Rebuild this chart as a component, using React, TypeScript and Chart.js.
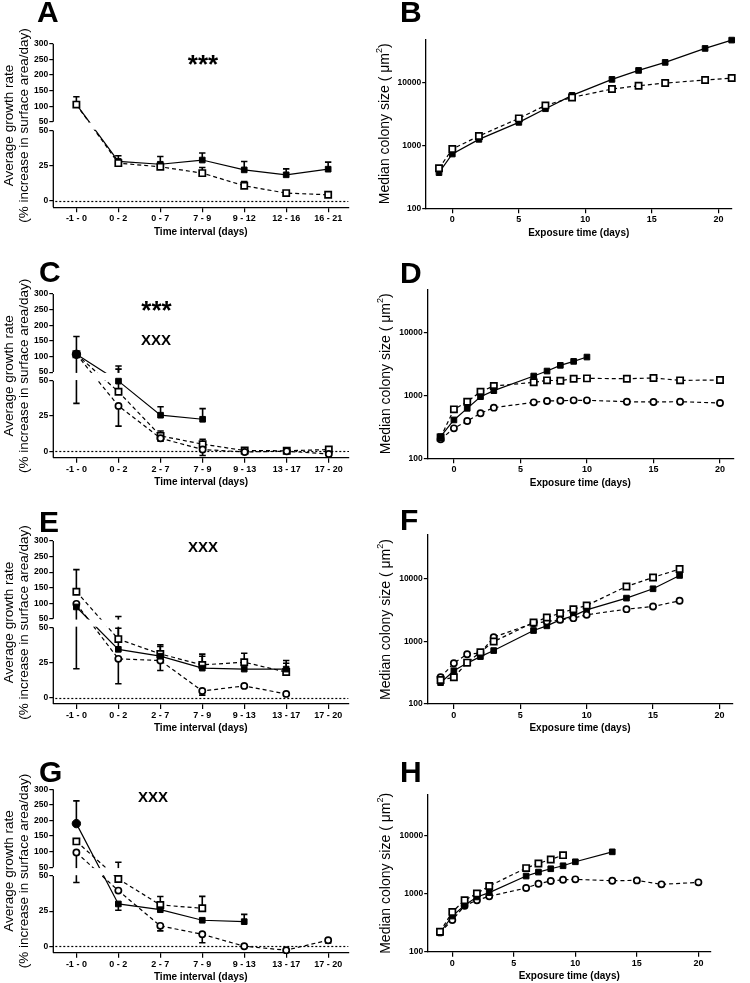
import React, { useEffect, useRef } from 'react';
import { Chart, registerables } from 'chart.js';

Chart.register(...registerables);

const FONT = '"Liberation Sans", Arial, Helvetica, sans-serif';

// ---------- broken y axis for growth-rate panels ----------
const GAP = 6.2;
const K = 0.222;
const Y_MIN = -4.6;
const UPPER_START = 50 + GAP;
const upperPos = (v: number) => UPPER_START + (v - 50) * K;
const brk = (v: number) => (v <= 50 ? v : upperPos(v));
const unbrk = (t: number) => (t <= 50.001 ? t : 50 + (t - UPPER_START) / K);
const LOWER_TICKS = [0, 25, 50];
const UPPER_TICKS = [50, 100, 150, 200, 250, 300];
const LOG_TICKS = [100, 1000, 10000];
const DAY_TICKS = [0, 5, 10, 15, 20];

const CATS_A = ['-1 - 0', '0 - 2', '0 - 7', '7 - 9', '9 - 12', '12 - 16', '16 - 21'];
const CATS_CEG = ['-1 - 0', '0 - 2', '2 - 7', '7 - 9', '9 - 13', '13 - 17', '17 - 20'];

// ---------- Panel A ----------
const A_filled = [106, 28, 26, 29, 22, 18.5, 22.5];
const A_filledUp = [24, 4, 5.5, 5, 6, 4.2, 5];
const A_open = [105, 26.8, 24.2, 19.7, 10.7, 5.5, 4.3];
const A_openUp = [0, 1, 1, 4, 3, 0.8, 0.8];

// ---------- Panel C ----------
const C_filled = [107, 49.8, 25.6, 22.7, null, null, null];
const C_filledUp = [57, 20, 6, 7.6, 0, 0, 0];
const C_filledDown = [73, 0, 0, 0, 0, 0, 0];
const C_square = [107, 42.2, 10.9, 5, 0.5, 0.3, 1.2];
const C_squareUp = [0, 17.5, 3.5, 3.5, 0.5, 0.5, 0.8];
const C_squareDown = [0, 0, 3, 0, 0, 0, 0];
const C_circle = [107, 32.2, 9.2, 1.2, -0.5, 0, -2];
const C_circleUp = [0, 0, 2, 2, 0, 0, 0];
const C_circleDown = [0, 14.4, 2, 4.2, 0, 0, 0.5];

// ---------- Panel E ----------
const E_filled = [88, 34.4, 29.5, 21, 20.3, 20.3, null];
const E_filledUp = [0, 15.1, 7, 8.5, 0, 4.2, 0];
const E_filledDown = [67.5, 0, 0, 0, 0, 0, 0];
const E_square = [137, 41.7, 31.1, 23.3, 25.2, 18.2, null];
const E_squareUp = [71, 15.8, 6.6, 7.7, 6.4, 8.2, 0];
const E_circle = [98, 27.6, 26.4, 4.7, 8.3, 2.6, null];
const E_circleUp = [0, 0, 0, 0, 0.8, 0.8, 0];
const E_circleDown = [0, 17.7, 7.1, 3, 1, 1, 0];

// ---------- Panel G ----------
const G_filled = [190, 30.1, 26, 18.5, 17.5, null, null];
const G_filledUp = [73, 0, 0, 0, 5.2, 0, 0];
const G_filledDown = [0, 4.5, 0, 0, 0, 0, 0];
const G_square = [133, 47.9, 29.4, 27, null, null, null];
const G_squareUp = [0, 18, 6, 8.5, 0, 0, 0];
const G_circle = [97.4, 39.6, 14.5, 8.5, 0, -2.8, 4.3];
const G_circleUp = [0, 0, 0, 0, 0, 0, 0.5];
const G_circleDown = [52, 0, 3.6, 6, 0.5, 0.5, 2];

// ---------- Panel B ----------
const B_days = [-1, 0, 2, 5, 7, 9, 12, 14, 16, 19, 21];
const B_filled = [371, 736, 1262, 2356, 3890, 6360, 11450, 15920, 21380, 35740, 48560];
const B_open = [435, 885, 1427, 2730, 4400, 5900, 8020, 9060, 10000, 11160, 12020];

// ---------- Panel D ----------
const D_filledDays = [-1, 0, 1, 2, 3, 6, 7, 8, 9, 10];
const D_filled = [222, 410, 628, 964, 1202, 2060, 2475, 3050, 3530, 4140];
const D_openDays = [-1, 0, 1, 2, 3, 6, 7, 8, 9, 10, 13, 15, 17, 20];
const D_square = [215, 605, 802, 1158, 1427, 1633, 1757, 1735, 1868, 1890, 1868, 1914, 1757, 1778];
const D_circle = [201, 301, 394, 523, 644, 783, 822, 832, 843, 843, 802, 792, 802, 764];

// ---------- Panel F ----------
const F_days = [-1, 0, 1, 2, 3, 6, 7, 8, 9, 10, 13, 15, 17];
const F_filled = [219, 340, 450, 571, 713, 1490, 1770, 2208, 2560, 3190, 4910, 6920, 11300];
const F_square = [242, 267, 458, 671, 993, 2000, 2404, 2824, 3270, 3745, 7540, 10500, 14280];
const F_circle = [267, 448, 624, 650, 1167, 1950, 2076, 2208, 2349, 2653, 3270, 3610, 4446];

// ---------- Panel H ----------
const H_filledDays = [-1, 0, 1, 2, 3, 6, 7, 8, 9, 10, 13];
const H_filled = [212, 411, 632, 877, 1043, 2009, 2350, 2683, 3020, 3536, 5250];
const H_squareDays = [-1, 0, 1, 2, 3, 6, 7, 8, 9];
const H_square = [220, 485, 771, 1004, 1355, 2754, 3311, 3878, 4600];
const H_circleDays = [-1, 0, 1, 2, 3, 6, 7, 8, 9, 10, 13, 15, 17, 20];
const H_circle = [215, 350, 620, 771, 900, 1251, 1484, 1650, 1738, 1761, 1670, 1692, 1445, 1564];

type Kind = 'filled' | 'square' | 'circle';
interface Series {
  kind: Kind;
  y: (number | null)[];
  x?: number[];
  up?: number[];
  down?: number[];
  firstCircle?: boolean;
}
interface PanelDef {
  id: string;
  side: 'left' | 'right';
  box: { left: number; top: number; width: number; height: number };
  area: { l: number; r: number; t: number; b: number };
  letter: { x: number; y: number };
  cats?: string[];
  series: Series[];
  notes: { text: string; cx: number; cy: number; size: number }[];
  yTitleX: number;
}

const LEFT_W = 375;
const PANELS: PanelDef[] = [
  {
    id: 'A', side: 'left', box: { left: 0, top: 0, width: LEFT_W, height: 240 },
    area: { l: 53.3, r: 348.3, t: 43.7, b: 207.3 }, letter: { x: 37, y: 22 }, cats: CATS_A,
    series: [
      { kind: 'filled', y: A_filled, up: A_filledUp },
      { kind: 'square', y: A_open, up: A_openUp },
    ],
    notes: [{ text: '***', cx: 203, cy: 60, size: 26 }], yTitleX: 9,
  },
  {
    id: 'B', side: 'right', box: { left: 375, top: 0, width: 375, height: 240 },
    area: { l: 425.7, r: 731.7, t: 39.3, b: 208.3 }, letter: { x: 400, y: 22 },
    series: [
      { kind: 'filled', x: B_days, y: B_filled },
      { kind: 'square', x: B_days, y: B_open },
    ],
    notes: [], yTitleX: 385,
  },
  {
    id: 'C', side: 'left', box: { left: 0, top: 240, width: LEFT_W, height: 250 },
    area: { l: 53.3, r: 349, t: 294, b: 457.7 }, letter: { x: 39, y: 282 }, cats: CATS_CEG,
    series: [
      { kind: 'square', y: C_square, up: C_squareUp, down: C_squareDown },
      { kind: 'circle', y: C_circle, up: C_circleUp, down: C_circleDown },
      { kind: 'filled', y: C_filled, up: C_filledUp, down: C_filledDown, firstCircle: true },
    ],
    notes: [
      { text: '***', cx: 156.5, cy: 306, size: 26 },
      { text: 'XXX', cx: 156, cy: 340, size: 15 },
    ], yTitleX: 9,
  },
  {
    id: 'D', side: 'right', box: { left: 375, top: 240, width: 375, height: 250 },
    area: { l: 427.3, r: 733.3, t: 289.3, b: 458.3 }, letter: { x: 400, y: 283 },
    series: [
      { kind: 'circle', x: D_openDays, y: D_circle },
      { kind: 'square', x: D_openDays, y: D_square },
      { kind: 'filled', x: D_filledDays, y: D_filled },
    ],
    notes: [], yTitleX: 386,
  },
  {
    id: 'E', side: 'left', box: { left: 0, top: 480, width: LEFT_W, height: 255 },
    area: { l: 53.3, r: 348.3, t: 541, b: 704 }, letter: { x: 39, y: 532 }, cats: CATS_CEG,
    series: [
      { kind: 'square', y: E_square, up: E_squareUp },
      { kind: 'circle', y: E_circle, up: E_circleUp, down: E_circleDown },
      { kind: 'filled', y: E_filled, up: E_filledUp, down: E_filledDown },
    ],
    notes: [{ text: 'XXX', cx: 203, cy: 546.7, size: 15 }], yTitleX: 9,
  },
  {
    id: 'F', side: 'right', box: { left: 375, top: 480, width: 375, height: 255 },
    area: { l: 427.3, r: 732.7, t: 535, b: 704 }, letter: { x: 400, y: 530 },
    series: [
      { kind: 'filled', x: F_days, y: F_filled },
      { kind: 'circle', x: F_days, y: F_circle },
      { kind: 'square', x: F_days, y: F_square },
    ],
    notes: [], yTitleX: 386,
  },
  {
    id: 'G', side: 'left', box: { left: 0, top: 730, width: LEFT_W, height: 253 },
    area: { l: 53.3, r: 348.3, t: 789.3, b: 952.7 }, letter: { x: 39, y: 782 }, cats: CATS_CEG,
    series: [
      { kind: 'square', y: G_square, up: G_squareUp },
      { kind: 'circle', y: G_circle, up: G_circleUp, down: G_circleDown },
      { kind: 'filled', y: G_filled, up: G_filledUp, down: G_filledDown, firstCircle: true },
    ],
    notes: [{ text: 'XXX', cx: 153, cy: 796.7, size: 15 }], yTitleX: 9,
  },
  {
    id: 'H', side: 'right', box: { left: 375, top: 730, width: 375, height: 253 },
    area: { l: 427.7, r: 710.7, t: 795, b: 951.7 }, letter: { x: 400, y: 782 },
    series: [
      { kind: 'circle', x: H_circleDays, y: H_circle },
      { kind: 'filled', x: H_filledDays, y: H_filled },
      { kind: 'square', x: H_squareDays, y: H_square },
    ],
    notes: [], yTitleX: 386,
  },
];

function marker(kind: Kind) {
  if (kind === 'filled') {
    return { pointStyle: 'rect', pointRadius: 4, pointBackgroundColor: '#000', pointBorderColor: '#000', pointBorderWidth: 1 };
  }
  if (kind === 'square') {
    return { pointStyle: 'rect', pointRadius: 4.4, pointBackgroundColor: '#fff', pointBorderColor: '#000', pointBorderWidth: 1.7 };
  }
  return { pointStyle: 'circle', pointRadius: 3.1, pointBackgroundColor: '#fff', pointBorderColor: '#000', pointBorderWidth: 1.7 };
}

function buildDatasets(p: PanelDef) {
  const lines: any[] = [];
  const points: any[] = [];
  const n = p.series.length;
  p.series.forEach((s, i) => {
    const pts: { x: number; y: number }[] = [];
    s.y.forEach((v, j) => {
      if (v == null) return;
      if (p.side === 'left') pts.push({ x: j, y: brk(v) });
      else pts.push({ x: (s.x as number[])[j], y: v });
    });
    lines.push({
      data: pts, borderColor: '#000', borderWidth: 1.2,
      borderDash: s.kind === 'filled' ? [] : [4, 3],
      pointRadius: 0, fill: false, tension: 0, order: 100 + i, clip: false,
    });
    const m: any = marker(s.kind);
    if (s.firstCircle) {
      m.pointStyle = pts.map((_, k) => (k === 0 ? 'circle' : 'rect'));
      m.pointRadius = pts.map((_, k) => (k === 0 ? 4.2 : 4));
    }
    points.push({
      data: pts, showLine: false, ...m, order: n - i, clip: false, isPoints: true,
    });
  });
  return [...lines, ...points];
}

function centeredText(ctx: CanvasRenderingContext2D, s: string, cx: number, cy: number) {
  const m = ctx.measureText(s);
  const asc = m.actualBoundingBoxAscent;
  const desc = m.actualBoundingBoxDescent;
  ctx.textAlign = 'center';
  ctx.textBaseline = 'alphabetic';
  ctx.fillText(s, cx, cy + (asc - desc) / 2);
}

function makePlugin(p: PanelDef) {
  const ox = p.box.left;
  const oy = p.box.top;
  return {
    id: 'panelDeco' + p.id,
    beforeDatasetsDraw(chart: any) {
      chart.$ptsDone = false;
      if (p.side !== 'left') return;
      const ctx = chart.ctx;
      const ys = chart.scales.y;
      const a = chart.chartArea;
      const y0 = Math.round(ys.getPixelForValue(0)) + 0.5;
      ctx.save();
      ctx.strokeStyle = '#000';
      ctx.lineWidth = 1.2;
      ctx.setLineDash([2, 2]);
      ctx.beginPath();
      ctx.moveTo(a.left + 2, y0);
      ctx.lineTo(a.right, y0);
      ctx.stroke();
      ctx.restore();
    },
    beforeDatasetDraw(chart: any, args: any) {
      const ds = chart.data.datasets[args.index];
      if (!ds.isPoints || chart.$ptsDone) return;
      chart.$ptsDone = true;
      if (p.side !== 'left') return;
      const ctx = chart.ctx;
      const xs = chart.scales.x;
      const ys = chart.scales.y;
      const a = chart.chartArea;
      ctx.save();
      ctx.strokeStyle = '#000';
      ctx.lineWidth = 1.6;
      ctx.setLineDash([]);
      p.series.forEach((s) => {
        s.y.forEach((v, j) => {
          if (v == null) return;
          const px = xs.getPixelForValue(j);
          const py = ys.getPixelForValue(brk(v));
          const up = (s.up && s.up[j]) || 0;
          const dn = (s.down && s.down[j]) || 0;
          const bars: [number, number][] = [[up, 1], [dn, -1]];
          bars.forEach(([e, sg]) => {
            if (e <= 0) return;
            const ey = ys.getPixelForValue(brk(v + sg * e));
            ctx.beginPath();
            ctx.moveTo(px, py);
            ctx.lineTo(px, ey);
            ctx.moveTo(px - 3.2, ey);
            ctx.lineTo(px + 3.2, ey);
            ctx.stroke();
          });
        });
      });
      // axis break gap
      const p1 = ys.getPixelForValue(UPPER_START);
      const p2 = ys.getPixelForValue(50);
      ctx.fillStyle = '#fff';
      ctx.fillRect(a.left + 1, p1 + 0.8, a.right - a.left + 6, p2 - p1 - 1.6);
      ctx.restore();
    },
    afterDraw(chart: any) {
      const ctx = chart.ctx;
      const a = chart.chartArea;
      ctx.save();
      ctx.fillStyle = '#000';
      ctx.strokeStyle = '#000';
      if (p.side === 'left') {
        const ys = chart.scales.y;
        const p1 = ys.getPixelForValue(UPPER_START);
        const p2 = ys.getPixelForValue(50);
        ctx.lineWidth = 1.3;
        ctx.beginPath();
        ctx.moveTo(a.left, a.top);
        ctx.lineTo(a.left, p1);
        ctx.moveTo(a.left, p2);
        ctx.lineTo(a.left, a.bottom);
        ctx.stroke();
      }
      // panel letter
      ctx.font = `bold 30px ${FONT}`;
      ctx.textAlign = 'left';
      ctx.textBaseline = 'alphabetic';
      ctx.fillText(p.id, p.letter.x - ox, p.letter.y - oy);
      // notes
      p.notes.forEach((n) => {
        ctx.font = `bold ${n.size}px ${FONT}`;
        centeredText(ctx, n.text, n.cx - ox, n.cy - oy);
      });
      // x title
      const xTitle = p.side === 'left' ? 'Time interval (days)' : 'Exposure time (days)';
      ctx.font = `bold 10px ${FONT}`;
      ctx.textAlign = 'center';
      ctx.textBaseline = 'middle';
      ctx.fillText(xTitle, (a.left + a.right) / 2, a.bottom + 24.5);
      // y title
      const cy = (a.top + a.bottom) / 2;
      if (p.side === 'left') {
        ctx.font = `13.5px ${FONT}`;
        ctx.save();
        ctx.translate(p.yTitleX - ox, cy);
        ctx.rotate(-Math.PI / 2);
        ctx.fillText('Average growth rate', 0, 0);
        ctx.fillText('(% increase in surface area/day)', 0, 15);
        ctx.restore();
      } else {
        const main = 'Median colony size ( \u03bcm';
        ctx.save();
        ctx.translate(p.yTitleX - ox, cy);
        ctx.rotate(-Math.PI / 2);
        ctx.font = `14px ${FONT}`;
        const w1 = ctx.measureText(main).width;
        const w3 = ctx.measureText(')').width;
        ctx.font = `9px ${FONT}`;
        const w2 = ctx.measureText('2').width;
        const start = -(w1 + w2 + w3) / 2;
        ctx.textAlign = 'left';
        ctx.font = `14px ${FONT}`;
        ctx.fillText(main, start, 0);
        ctx.font = `9px ${FONT}`;
        ctx.fillText('2', start + w1, -5);
        ctx.font = `14px ${FONT}`;
        ctx.fillText(')', start + w1 + w2, 0);
        ctx.restore();
      }
      ctx.restore();
    },
  };
}

function buildConfig(p: PanelDef): any {
  const tickFontX = { family: FONT, size: 9, weight: 'bold' as const };
  const tickFontY = { family: FONT, size: 8.5, weight: 'bold' as const };
  const yAfterFit = (s: any) => { s.width = p.area.l - p.box.left; };
  const xAfterFit = (s: any) => { s.height = p.box.top + p.box.height - p.area.b; };
  const gridX = { drawOnChartArea: false, drawTicks: true, tickLength: 5, color: '#000', lineWidth: 1.2 };
  const gridY = { drawOnChartArea: false, drawTicks: true, tickLength: 4, color: '#000', lineWidth: 1.2 };
  let scales: any;
  if (p.side === 'left') {
    const cats = p.cats as string[];
    scales = {
      x: {
        type: 'linear', min: -0.55, max: 6.48,
        afterBuildTicks: (s: any) => { s.ticks = cats.map((_, i) => ({ value: i })); },
        ticks: { callback: (v: any) => cats[Math.round(v)], autoSkip: false, maxRotation: 0, font: tickFontX, color: '#000', padding: 1 },
        grid: gridX,
        border: { display: true, color: '#000', width: 1.3 },
        afterFit: xAfterFit,
      },
      y: {
        type: 'linear', min: Y_MIN, max: upperPos(300),
        afterBuildTicks: (s: any) => {
          s.ticks = [...LOWER_TICKS.map((v) => ({ value: v })), ...UPPER_TICKS.map((v) => ({ value: upperPos(v) }))];
        },
        ticks: { callback: (v: any) => String(Math.round(unbrk(v))), autoSkip: false, font: tickFontY, color: '#000', padding: 1 },
        grid: gridY,
        border: { display: false },
        afterFit: yAfterFit,
      },
    };
  } else {
    scales = {
      x: {
        type: 'linear', min: -2, max: 21,
        afterBuildTicks: (s: any) => { s.ticks = DAY_TICKS.map((v) => ({ value: v })); },
        ticks: { callback: (v: any) => String(v), autoSkip: false, maxRotation: 0, font: tickFontX, color: '#000', padding: 1 },
        grid: gridX,
        border: { display: true, color: '#000', width: 1.3 },
        afterFit: xAfterFit,
      },
      y: {
        type: 'logarithmic', min: 100, max: 50000,
        afterBuildTicks: (s: any) => { s.ticks = LOG_TICKS.map((v) => ({ value: v })); },
        ticks: { callback: (v: any) => String(v), autoSkip: false, font: tickFontY, color: '#000', padding: 1 },
        grid: { ...gridY, tickLength: 3.5 },
        border: { display: true, color: '#000', width: 1.3 },
        afterFit: yAfterFit,
      },
    };
  }
  return {
    type: 'line',
    data: { datasets: buildDatasets(p) },
    options: {
      animation: false,
      responsive: false,
      devicePixelRatio: 1,
      events: [],
      layout: {
        padding: {
          top: p.area.t - p.box.top,
          right: p.box.left + p.box.width - p.area.r,
          left: 0,
          bottom: 0,
        },
      },
      plugins: { legend: { display: false }, tooltip: { enabled: false }, title: { display: false } },
      scales,
    },
    plugins: [makePlugin(p)],
  };
}

function Panel({ p }: { p: PanelDef }) {
  const ref = useRef<HTMLCanvasElement | null>(null);
  useEffect(() => {
    if (!ref.current) return;
    const chart = new Chart(ref.current, buildConfig(p));
    return () => chart.destroy();
  }, [p]);
  return (
    <canvas
      ref={ref}
      width={p.box.width}
      height={p.box.height}
      style={{ position: 'absolute', left: p.box.left, top: p.box.top, width: p.box.width, height: p.box.height, display: 'block' }}
    />
  );
}

export default function App() {
  return (
    <div style={{ position: 'absolute', left: 0, top: 0, width: 750, height: 983, background: '#fff', overflow: 'hidden' }}>
      {PANELS.map((p) => (
        <Panel key={p.id} p={p} />
      ))}
    </div>
  );
}
